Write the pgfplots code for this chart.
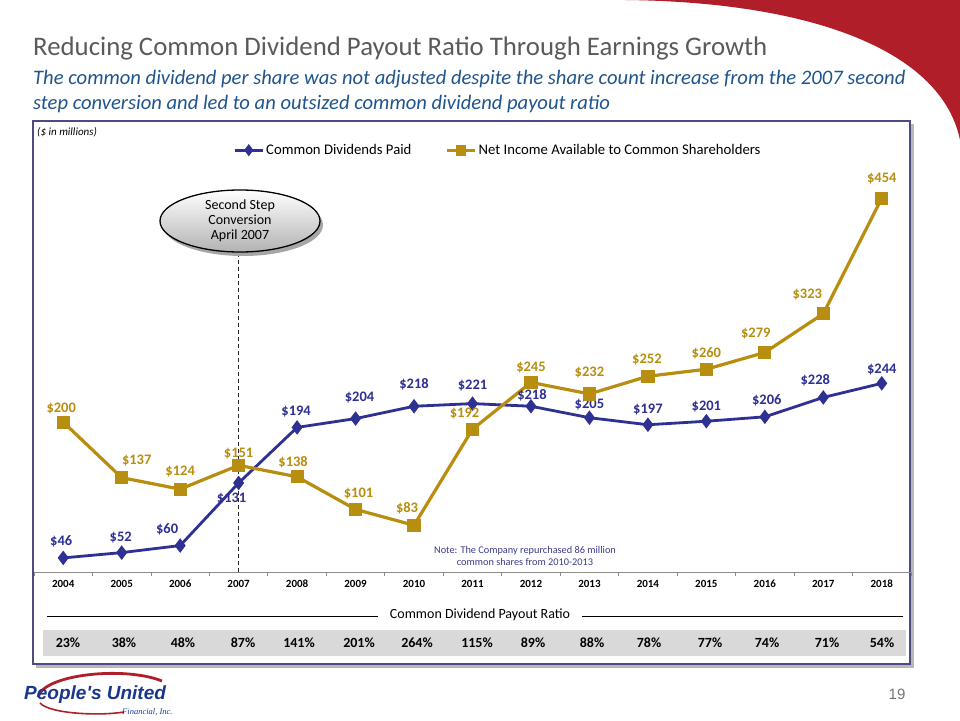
\documentclass[border=0pt]{standalone}
\usepackage{fontspec}
\setmainfont{Carlito}
\newfontfamily\lsans{Liberation Sans}
\newfontfamily\lserif{Liberation Serif}
\usepackage{pgfplots}
\usepackage{pgfplotstable}
\pgfplotsset{compat=1.18}
\definecolor{navy}{RGB}{46,48,146}
\definecolor{gold}{RGB}{184,142,16}
\definecolor{titlegray}{RGB}{90,90,90}
\definecolor{subblue}{RGB}{31,84,140}
\definecolor{swred}{RGB}{176,30,42}
\definecolor{framecol}{RGB}{76,76,128}
\definecolor{band}{RGB}{217,217,217}
\definecolor{logoblue}{RGB}{27,55,140}
\definecolor{notecol}{RGB}{60,60,140}
\newcommand{\fs}[1]{\fontsize{#1}{#1}\selectfont}

% Common Dividends Paid ($ millions); dx/dy = label offsets
\pgfplotstableread{
x y dx dy
0 46 -2 17
1 52 -1 15
2 60 -13 16
3 131 -7 -16
4 194 -1 16
5 204 4 21
6 218 0 22
7 221 0 18
8 218 1 11
9 205 0 13
10 197 0 15
11 201 0 15
12 206 2 17
13 228 -8 17
14 244 0 14
}\divtable

% Net Income Available to Common Shareholders ($ millions)
\pgfplotstableread{
x y dx dy
0 200 -2 14
1 137 15 17
2 124 0 18
3 151 0 12
4 138 -4 15
5 101 3 16
6 83 -7 17
7 192 -8 16
8 245 0 15
9 232 0 21
10 252 -1 17
11 260 0 16
12 279 -9 19
13 323 -16 19
14 454 0 20
}\nitable

\begin{document}
\begin{tikzpicture}
\path[use as bounding box] (0pt,0pt) rectangle (960pt,-720pt);
\begin{scope}[x=1pt,y=-1pt]
  % red swoosh
  \fill[swred] (625,0) .. controls (815,2) and (942,52) .. (960,140) -- (960,0) -- cycle;
  % titles
  \node[anchor=base west, inner sep=0, text=titlegray, font=\fs{26.8}] at (33,55) {Reducing Common Dividend Payout Ratio Through Earnings Growth};
  \node[anchor=base west, inner sep=0, text=subblue, font=\itshape\fs{20.6}] at (33,84) {The common dividend per share was not adjusted despite the share count increase from the 2007 second};
  \node[anchor=base west, inner sep=0, text=subblue, font=\itshape\fs{20.6}] at (33,109) {step conversion and led to an outsized common dividend payout ratio};
  % frame
  \fill[black!28] (36,124) rectangle (914,668);
  \draw[framecol, line width=2, fill=white] (33,121) rectangle (910,664);
  \node[anchor=west, inner sep=0, font=\itshape\fs{11}] at (37,132) {(\$ in millions)};
  % payout ratio band
  \fill[band] (43,630) rectangle (906,656);
  \draw[black, line width=0.8] (47,616) -- (378,616);
  \draw[black, line width=0.8] (582,616) -- (903,616);
  \node[font=\fs{14}, inner sep=0] at (480,615) {Common Dividend Payout Ratio};
  \foreach \xx/\p in {68/23,124/38,183/48,243/87,299/141,359/201,417/264,477/115,533/89,592/88,649/78,710/77,767/74,827/71,882/54}
    \node[font=\bfseries\fs{14}, inner sep=0] at (\xx,643) {\p\%};
  % note
  \node[font=\fs{10.3}, text=notecol, align=center, inner sep=0] at (525,556) {Note: The Company repurchased 86 million\\[1pt]common shares from 2010-2013};
  % logo
  \draw[swred, line width=2.8] (38,697) .. controls (44,674) and (125,666) .. (162,681);
  \draw[swred, line width=1.6] (40,703) .. controls (50,714) and (100,716) .. (124,712);
  \node[anchor=base west, inner sep=0, text=logoblue, font=\lsans\bfseries\itshape\fs{19}] at (24,699) {People's United};
  \node[anchor=base west, inner sep=0, text=logoblue, font=\lserif\itshape\fs{8.5}] at (122,714) {Financial, Inc.};
  % page number
  \node[font=\lsans\fs{15}, text=black!55, inner sep=0] at (897,694) {19};
\end{scope}

\begin{axis}[
  at={(34pt,-572pt)}, anchor=south west,
  width=877pt, height=414.4pt, scale only axis,
  xmin=-0.5, xmax=14.5, ymin=30, ymax=500,
  axis x line*=bottom, axis y line=none,
  x axis line style={black!45, line width=0.8pt, -},
  xtick={0,...,14},
  xticklabels={2004,2005,2006,2007,2008,2009,2010,2011,2012,2013,2014,2015,2016,2017,2018},
  major x tick style={draw=none},
  minor xtick={-0.5,0.5,...,14.5},
  minor tick length=4pt,
  minor x tick style={black!45, line width=0.8pt},
  tick align=outside,
  xticklabel style={font=\bfseries\fs{11}, text=black},
  ytick=\empty,
  clip=false,
  /pgf/number format/assume math mode=true,
  legend style={at={(axis description cs:0.529,1.018)}, anchor=center, draw=none, fill=none,
    legend columns=2, font=\fs{14.7}, /tikz/every even column/.append style={column sep=32pt},
    inner sep=0pt},
  legend image code/.code={\draw[mark repeat=2,mark phase=2,#1,mark size=3.8pt] plot coordinates {(0pt,0pt) (14pt,0pt) (28pt,0pt)};},
]
\draw[black!85, line width=1.4pt, dash pattern=on 4pt off 3pt] (axis cs:3,30) -- (axis cs:3,389);

\addplot[navy, line width=2.8pt, mark=diamond*, mark size=5pt, mark options={solid},
  point meta=y,
  nodes near coords={\$\pgfmathprintnumber{\pgfplotspointmeta}},
  visualization depends on={\thisrow{dx}\as\dx},
  visualization depends on={\thisrow{dy}\as\dy},
  nodes near coords style={anchor=center, xshift=\dx pt, yshift=\dy pt, font=\bfseries\fs{14.5}, text=navy}]
  table[x=x,y=y] {\divtable};
\addlegendentry{Common Dividends Paid}

\addplot[gold, line width=3.2pt, mark=square*, mark size=5pt, mark options={solid},
  point meta=y,
  nodes near coords={\$\pgfmathprintnumber{\pgfplotspointmeta}},
  visualization depends on={\thisrow{dx}\as\dx},
  visualization depends on={\thisrow{dy}\as\dy},
  nodes near coords style={anchor=center, xshift=\dx pt, yshift=\dy pt, font=\bfseries\fs{14.5}, text=gold}]
  table[x=x,y=y] {\nitable};
\addlegendentry{Net Income Available to Common Shareholders}
\end{axis}

\begin{scope}[x=1pt,y=-1pt]
  % callout
  \fill[black!35] (243,225) ellipse [x radius=80, y radius=31];
  \shade[top color=white, bottom color=black!30] (240,221) ellipse [x radius=80, y radius=31];
  \draw[black, line width=1.3] (240,221) ellipse [x radius=80, y radius=31];
  \node[font=\fs{14}, align=center, inner sep=0] at (240,221) {Second Step\\[1pt]Conversion\\[1pt]April 2007};
\end{scope}
\end{tikzpicture}
\end{document}
